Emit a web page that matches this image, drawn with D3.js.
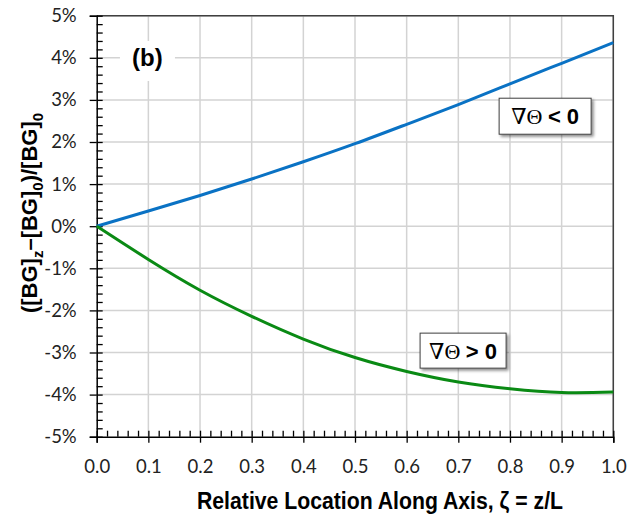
<!DOCTYPE html>
<html>
<head>
<meta charset="utf-8">
<script src="https://cdn.jsdelivr.net/npm/d3@7"></script>
<style>
  body { margin: 0; background: #fff; }
  .tick text { font-family: Lato, "Open Sans", sans-serif; font-size: 18.5px; fill: #222; }
</style>
</head>
<body>
<div id="chart"></div>
<script>
// chart data (percent)
var zeta = [0, 0.1, 0.2, 0.3, 0.4, 0.5, 0.6, 0.7, 0.8, 0.9, 1.0];
var gradNeg = [0, 0.36, 0.73, 1.12, 1.53, 1.96, 2.42, 2.89, 3.38, 3.87, 4.36];
var gradPos = [0, -0.79, -1.52, -2.14, -2.68, -3.12, -3.45, -3.70, -3.86, -3.95, -3.94];
var xTicks = [0, 0.1, 0.2, 0.3, 0.4, 0.5, 0.6, 0.7, 0.8, 0.9, 1.0];
var yTicks = [-5, -4, -3, -2, -1, 0, 1, 2, 3, 4, 5];
var labelNeg = "< 0";
var labelPos = "> 0";

var svgWidth = 640, svgHeight = 519;
var margin = { top: 15.7, right: 26.7, bottom: 82.3, left: 96.7 };
var width = svgWidth - margin.left - margin.right;
var height = svgHeight - margin.top - margin.bottom;

var svg = d3.select("#chart").append("svg")
    .attr("width", svgWidth)
    .attr("height", svgHeight);

var defs = svg.append("defs");
var shadow = defs.append("filter").attr("id", "shadow")
    .attr("x", "-20%").attr("y", "-20%").attr("width", "150%").attr("height", "160%");
shadow.append("feDropShadow")
    .attr("dx", 2).attr("dy", 2).attr("stdDeviation", 1.5)
    .attr("flood-color", "#000").attr("flood-opacity", 0.45);

var chartGroup = svg.append("g")
    .attr("transform", `translate(${margin.left}, ${margin.top})`);

var xScale = d3.scaleLinear().domain([0, 1]).range([0, width]);
var yScale = d3.scaleLinear().domain([-5, 5]).range([height, 0]);

// gridlines
chartGroup.append("g").selectAll("line.vg")
    .data(xTicks.slice(1))
    .enter().append("line")
    .attr("x1", d => xScale(d)).attr("x2", d => xScale(d))
    .attr("y1", 0).attr("y2", height)
    .attr("stroke", "#d3d3d3").attr("stroke-width", 1.5);
chartGroup.append("g").selectAll("line.hg")
    .data(yTicks.slice(1))
    .enter().append("line")
    .attr("x1", 0).attr("x2", width)
    .attr("y1", d => yScale(d)).attr("y2", d => yScale(d))
    .attr("stroke", "#d3d3d3").attr("stroke-width", 1.5);

// frame on top and right
chartGroup.append("path")
    .attr("d", `M0,0H${width}V${height}`)
    .attr("fill", "none").attr("stroke", "#404040").attr("stroke-width", 1.5);

// (b) panel label with white backing
chartGroup.append("rect")
    .attr("x", xScale(0.045)).attr("y", yScale(4.4))
    .attr("width", 55).attr("height", 40)
    .attr("fill", "#fff");
chartGroup.append("text")
    .attr("x", xScale(0.098)).attr("y", yScale(3.8))
    .attr("text-anchor", "middle")
    .style("font-family", "'Liberation Sans', Arial, sans-serif")
    .style("font-weight", "bold").style("font-size", "24px")
    .text("(b)");

// axes
var xMinor = d3.range(0, 1.0001, 0.02);
var yMinor = d3.range(-5, 5.0001, 0.2);

chartGroup.append("g")
    .attr("transform", `translate(0, ${height})`)
    .call(d3.axisTop(xScale).tickValues(xMinor).tickSize(6).tickFormat(""))
    .call(g => g.select(".domain").remove());
chartGroup.append("g")
    .call(d3.axisRight(yScale).tickValues(yMinor).tickSize(6).tickFormat(""))
    .call(g => g.select(".domain").remove());

chartGroup.append("g")
    .attr("transform", `translate(0, ${height})`)
    .call(d3.axisBottom(xScale).tickValues(xTicks).tickSize(6).tickPadding(17)
        .tickFormat(d3.format(".1f")))
    .call(g => g.select(".domain").attr("stroke-width", 1.5));
chartGroup.append("g")
    .call(d3.axisLeft(yScale).tickValues(yTicks).tickSize(7).tickPadding(13)
        .tickFormat(d => d + "%"))
    .call(g => g.select(".domain").attr("stroke-width", 1.5));

chartGroup.selectAll(".tick line").attr("stroke-width", 1.3);

// lines
var series = [
    { values: gradNeg, color: "#0a72c4" },
    { values: gradPos, color: "#0a8a14" }
];
var line = d3.line()
    .x((d, i) => xScale(zeta[i]))
    .y(d => yScale(d))
    .curve(d3.curveNatural);

chartGroup.selectAll("path.series")
    .data(series)
    .enter().append("path")
    .attr("class", "series")
    .attr("d", d => line(d.values))
    .attr("fill", "none")
    .attr("stroke", d => d.color)
    .attr("stroke-width", 3);

// label boxes
function addLabel(x0, y0, w, h, rel) {
    var g = chartGroup.append("g");
    g.append("rect")
        .attr("x", xScale(x0)).attr("y", yScale(y0))
        .attr("width", w).attr("height", h)
        .attr("fill", "#fff").attr("stroke", "#404040").attr("stroke-width", 1)
        .attr("filter", "url(#shadow)");
    var t = g.append("text")
        .attr("x", xScale(x0) + w / 2).attr("y", yScale(y0) + h / 2 + 8)
        .attr("text-anchor", "middle")
        .style("font-size", "22px");
    t.append("tspan")
        .style("font-family", "'Liberation Serif', 'DejaVu Serif', serif")
        .text("∇Θ ");
    t.append("tspan")
        .style("font-family", "'Liberation Sans', Arial, sans-serif")
        .style("font-weight", "bold")
        .text(rel);
}
addLabel(0.779, 3.04, 92, 36, labelNeg);
addLabel(0.626, -2.54, 86, 35, labelPos);

// axis titles
svg.append("text")
    .attr("x", 380).attr("y", 509)
    .attr("text-anchor", "middle")
    .attr("textLength", 366)
    .attr("lengthAdjust", "spacingAndGlyphs")
    .style("font-family", "'Liberation Sans', Arial, sans-serif")
    .style("font-weight", "bold").style("font-size", "23px")
    .text("Relative Location Along Axis, ζ = z/L");

var yTitle = svg.append("text")
    .attr("transform", "translate(37, 213) rotate(-90)")
    .attr("text-anchor", "middle")
    .style("font-family", "'Liberation Sans', Arial, sans-serif")
    .style("font-weight", "bold").style("font-size", "22px");
yTitle.append("tspan").text("([BG]");
yTitle.append("tspan").attr("dy", 6).style("font-size", "15px").text("z");
yTitle.append("tspan").attr("dy", -6).text("–[BG]");
yTitle.append("tspan").attr("dy", 6).style("font-size", "15px").text("0");
yTitle.append("tspan").attr("dy", -6).text(")/[BG]");
yTitle.append("tspan").attr("dy", 6).style("font-size", "15px").text("0");
</script>
</body>
</html>
